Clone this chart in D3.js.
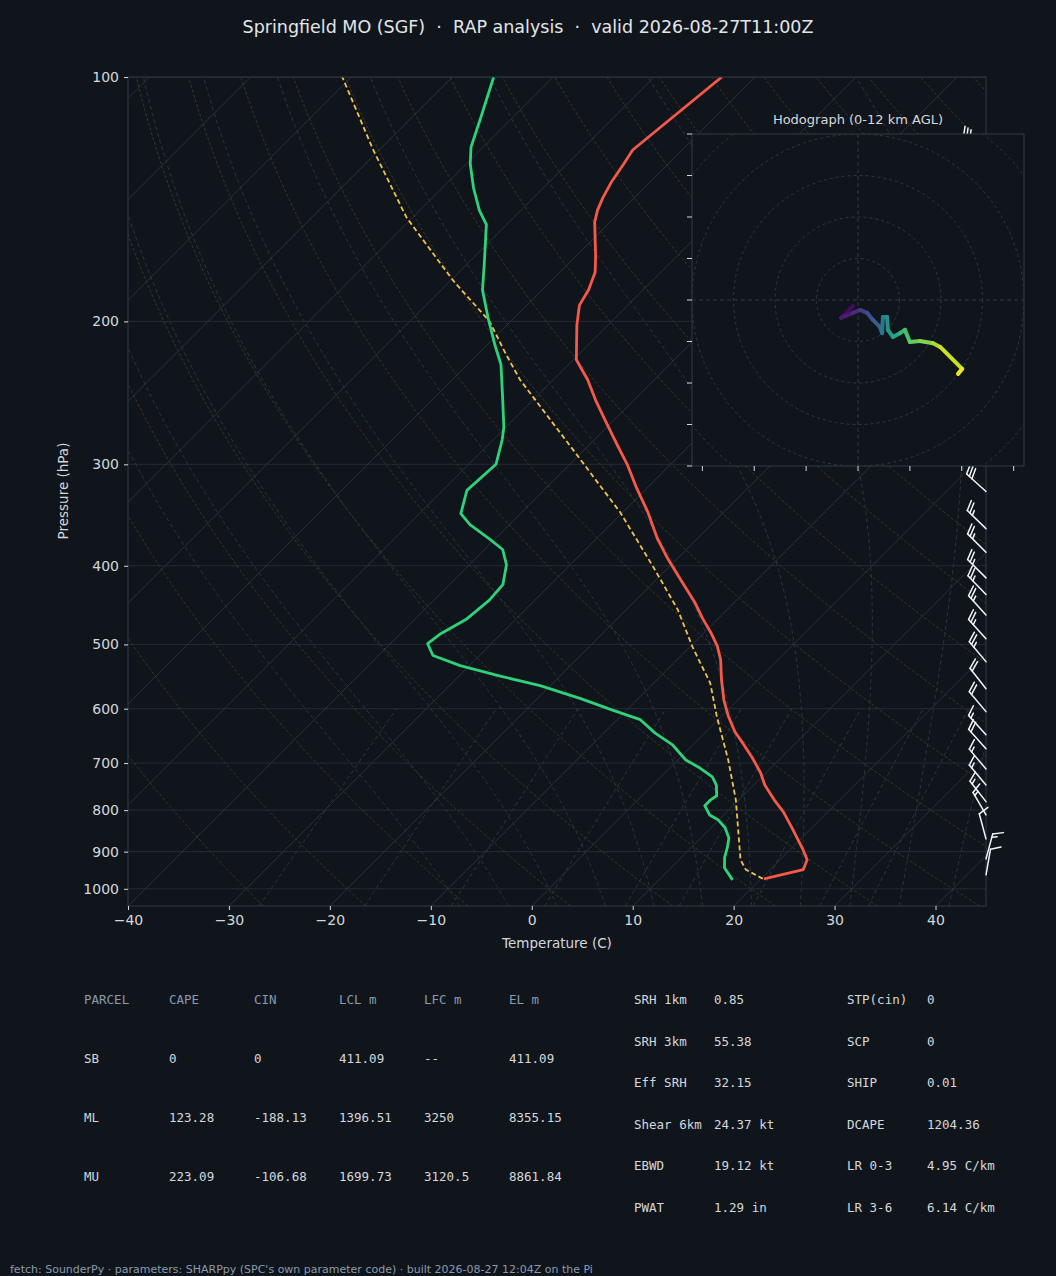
<!DOCTYPE html>
<html>
<head>
<meta charset="utf-8">
<script src="https://cdn.jsdelivr.net/npm/d3@7"></script>
<style>
  body { margin: 0; background: #10151b; }
  svg { display: block; }
</style>
</head>
<body>
<svg id="chart" width="1056" height="1276"></svg>
<script>
// sounding (pressure hPa, temperature C)
var tempP = [972, 947, 921, 895, 836, 804, 777, 745, 720, 690, 663, 641, 612, 585, 553, 522, 502, 483, 465, 444, 416, 393, 370, 343, 321, 300, 284, 265, 250, 236, 223, 202, 191, 183, 174, 166, 151, 146, 141, 135, 128, 123, 100];
var tempT = [20.3, 23.3, 22.7, 21.3, 17.7, 15.6, 13.5, 11.1, 9.5, 7.2, 4.9, 2.9, 0.6, -1.4, -3.6, -5.7, -7.4, -9.4, -11.5, -13.9, -17.6, -20.8, -24.0, -27.6, -31.0, -34.3, -37.2, -40.8, -43.8, -46.6, -49.7, -53.1, -54.8, -55.4, -56.5, -58.1, -61.5, -62.4, -63.1, -63.8, -64.4, -64.9, -63.3];

var dewP = [975, 942, 915, 890, 866, 841, 822, 811, 790, 777, 768, 745, 728, 710, 694, 665, 643, 619, 602, 583, 562, 547, 531, 516, 499, 485, 466, 441, 422, 399, 382, 371, 356, 345, 323, 300, 280, 270, 250, 226, 214, 198, 183, 170, 152, 146, 137, 128, 122, 112, 100];
var dewT = [17.3, 15.3, 14.3, 13.6, 12.8, 11.4, 9.9, 8.6, 7.2, 7.2, 7.4, 6.3, 5.1, 3.0, 0.8, -2.0, -4.9, -7.7, -11.5, -15.7, -21.0, -25.9, -30.9, -34.6, -36.3, -36.0, -34.9, -34.5, -34.7, -36.3, -38.2, -40.5, -43.9, -45.9, -47.6, -47.3, -49.1, -50.2, -53.0, -56.7, -59.2, -62.6, -65.9, -68.3, -72.0, -74.1, -76.9, -79.6, -81.2, -83.2, -85.9];

var parcelP = [972, 947, 921, 871, 777, 694, 614, 558, 504, 453, 401, 344, 296, 236, 219.6, 200, 178, 149, 123, 100];
var parcelT = [20.2, 17.6, 16.1, 14.0, 9.7, 5.0, -0.4, -4.4, -9.7, -14.9, -21.6, -30.2, -39.4, -53.3, -57.2, -62.1, -69.8, -80.6, -90.6, -100.9];

// wind barbs (pressure hPa, direction deg, speed kt)
var windP = [961, 919, 868, 811, 781, 745, 712, 672, 646, 605, 567, 525, 492, 460, 434, 414, 385, 360, 324, 300, 270, 240, 210, 180, 150, 123];
var windDir = [10, 15, 345, 330, 322, 320, 320, 318, 318, 320, 322, 320, 318, 318, 316, 315, 315, 314, 312, 310, 308, 305, 305, 302, 300, 300];
var windSpd = [10, 15, 10, 15, 15, 15, 15, 20, 15, 20, 20, 25, 25, 25, 25, 25, 25, 25, 30, 30, 30, 30, 30, 30, 30, 30];

// hodograph (u, v kt)
var hodoU = [-1.2, -4.1, -1.2, 0.5, 2.2, 3.6, 5.3, 5.8, 6.0, 7.0, 7.2, 8.4, 10.1, 11.3, 12.5, 14.9, 18.1, 19.8, 25.1, 24.1];
var hodoV = [-1.4, -4.3, -3.1, -2.4, -3.1, -4.8, -6.5, -8.0, -4.1, -4.1, -7.2, -8.9, -8.0, -7.2, -10.1, -9.9, -10.4, -11.3, -16.6, -17.8];

var pressureTicks = [100, 200, 300, 400, 500, 600, 700, 800, 900, 1000];
var tempTicks = [-40, -30, -20, -10, 0, 10, 20, 30, 40];

var parcelHeader = ["PARCEL", "CAPE", "CIN", "LCL m", "LFC m", "EL m"];
var parcelRows = [
  ["SB", "0", "0", "411.09", "--", "411.09"],
  ["ML", "123.28", "-188.13", "1396.51", "3250", "8355.15"],
  ["MU", "223.09", "-106.68", "1699.73", "3120.5", "8861.84"]
];
var paramLabelsA = ["SRH 1km", "SRH 3km", "Eff SRH", "Shear 6km", "EBWD", "PWAT"];
var paramValuesA = ["0.85", "55.38", "32.15", "24.37 kt", "19.12 kt", "1.29 in"];
var paramLabelsB = ["STP(cin)", "SCP", "SHIP", "DCAPE", "LR 0-3", "LR 3-6"];
var paramValuesB = ["0", "0", "0.01", "1204.36", "4.95 C/km", "6.14 C/km"];

var svg = d3.select("#chart");
var bg = "#10151b";
var textCol = "#d4d8de";
var frameCol = "#2e3a48";

svg.append("rect").attr("width", 1056).attr("height", 1276).attr("fill", bg);

var plotL = 128, plotR = 986, plotT = 77, plotB = 906;
var x = d3.scaleLinear().domain([-40, 45]).range([plotL, plotR]);
var y = d3.scaleLog().domain([1050, 100]).range([plotB, plotT]);

// skewed position: isotherms lean 45 degrees
function sx(t, p) { return x(t) + (plotB - y(p)); }
var skewLine = d3.line().x(function (d) { return sx(d[1], d[0]); }).y(function (d) { return y(d[0]); });

svg.append("defs").append("clipPath").attr("id", "plotclip")
  .append("rect").attr("x", plotL).attr("y", plotT).attr("width", plotR - plotL).attr("height", plotB - plotT);

var plot = svg.append("g").attr("clip-path", "url(#plotclip)");

// horizontal grid
plot.selectAll(".hgrid").data(pressureTicks).enter().append("line")
  .attr("x1", plotL).attr("x2", plotR)
  .attr("y1", function (d) { return y(d); }).attr("y2", function (d) { return y(d); })
  .attr("stroke", "#232b35").attr("stroke-width", 1);

var pAll = d3.range(1050, 99, -5);
var pLow = d3.range(1050, 599, -10);

// isotherms
d3.range(-120, 50, 10).forEach(function (t) {
  plot.append("path").datum([[1050, t], [100, t]]).attr("d", skewLine)
    .attr("fill", "none").attr("stroke", "#28313b").attr("stroke-width", 1);
});

// dry adiabats
d3.range(-30, 210, 10).forEach(function (t0) {
  var th = t0 + 273.15;
  var pts = pAll.map(function (p) { return [p, th * Math.pow(p / 1000, 0.2857) - 273.15]; });
  plot.append("path").datum(pts).attr("d", skewLine)
    .attr("fill", "none").attr("stroke", "#3b3427").attr("stroke-width", 1)
    .attr("stroke-dasharray", "3,2");
});

// moist adiabats
function es(tc) { return 6.112 * Math.exp(17.67 * tc / (tc + 243.5)); }
function dTdp(tc, p) {
  var T = tc + 273.15, e = es(tc), r = 0.622 * e / (p - e);
  var Lv = 2.501e6, Rd = 287.04, cp = 1005.7;
  return (Rd * T / p) * (1 + Lv * r / (Rd * T)) / (cp + Lv * Lv * r * 0.622 / (Rd * T * T));
}
d3.range(-10, 46, 5).forEach(function (t0) {
  var pts = [];
  var t = t0;
  for (var p = 1000; p <= 1050; p += 5) { pts.unshift([p, t]); t += dTdp(t, p) * 5; }
  t = t0;
  for (var q = 1000; q >= 100; q -= 5) { pts.push([q, t]); t -= dTdp(t, q) * 5; }
  plot.append("path").datum(pts).attr("d", skewLine)
    .attr("fill", "none").attr("stroke", "#26363f").attr("stroke-width", 1)
    .attr("stroke-dasharray", "4,3");
});

// mixing ratio lines
[0.4, 1, 2, 4, 7, 10, 16, 24, 32].forEach(function (w) {
  var pts = pLow.map(function (p) {
    var e = (w / 1000) * p / (0.622 + w / 1000);
    var l = Math.log(e / 6.112);
    return [p, 243.5 * l / (17.67 - l)];
  });
  plot.append("path").datum(pts).attr("d", skewLine)
    .attr("fill", "none").attr("stroke", "#27383b").attr("stroke-width", 1)
    .attr("stroke-dasharray", "4,3");
});

// profiles
plot.append("path").datum(d3.zip(parcelP, parcelT)).attr("d", skewLine)
  .attr("fill", "none").attr("stroke", "#f2c14e").attr("stroke-width", 1.8)
  .attr("stroke-dasharray", "5,3");
plot.append("path").datum(d3.zip(dewP, dewT)).attr("d", skewLine)
  .attr("fill", "none").attr("stroke", "#2fd27a").attr("stroke-width", 2.8)
  .attr("stroke-linejoin", "round");
plot.append("path").datum(d3.zip(tempP, tempT)).attr("d", skewLine)
  .attr("fill", "none").attr("stroke", "#f5594a").attr("stroke-width", 2.8)
  .attr("stroke-linejoin", "round");

// frame and axes
svg.append("rect").attr("x", plotL).attr("y", plotT).attr("width", plotR - plotL).attr("height", plotB - plotT)
  .attr("fill", "none").attr("stroke", frameCol);

var yAxis = svg.append("g").attr("transform", "translate(" + plotL + ",0)")
  .call(d3.axisLeft(y).tickValues(pressureTicks).tickFormat(d3.format("d")).tickSize(4).tickPadding(5));
var xAxis = svg.append("g").attr("transform", "translate(0," + plotB + ")")
  .call(d3.axisBottom(x).tickValues(tempTicks).tickFormat(function (d) { return d < 0 ? "\u2212" + (-d) : d; }).tickSize(4).tickPadding(5));
[yAxis, xAxis].forEach(function (a) {
  a.select(".domain").remove();
  a.selectAll("line").attr("stroke", textCol);
  a.selectAll("text").attr("fill", textCol).style("font-family", "DejaVu Sans").style("font-size", "14px");
});

svg.append("text").attr("x", 557).attr("y", 948).attr("text-anchor", "middle")
  .attr("fill", textCol).style("font-family", "DejaVu Sans").style("font-size", "13.5px").text("Temperature (C)");
svg.append("text").attr("transform", "translate(68,491) rotate(-90)").attr("text-anchor", "middle")
  .attr("fill", textCol).style("font-family", "DejaVu Sans").style("font-size", "13.5px").text("Pressure (hPa)");

svg.append("text").attr("x", 528).attr("y", 33).attr("text-anchor", "middle")
  .attr("fill", "#e2e5ea").style("font-family", "DejaVu Sans").style("font-size", "17.5px")
  .style("white-space", "pre")
  .text("Springfield MO (SGF)  \u00b7  RAP analysis  \u00b7  valid 2026-08-27T11:00Z");

// wind barbs: staff points toward the direction the wind comes from
var barbs = svg.append("g").attr("stroke", "#f2f4f7").attr("stroke-width", 1.5).attr("fill", "none")
  .attr("stroke-linecap", "round");
windP.forEach(function (p, i) {
  var bx = plotR, by = y(p);
  var a = windDir[i] * Math.PI / 180;
  var sdx = Math.sin(a), sdy = -Math.cos(a);
  var len = 26;
  var tx = bx + sdx * len, ty = by + sdy * len;
  barbs.append("line").attr("x1", bx).attr("y1", by).attr("x2", tx).attr("y2", ty);
  var px = -sdy, py = sdx;
  var spd = windSpd[i], pos = 0;
  var full = Math.floor(spd / 10), half = (spd % 10) >= 5 ? 1 : 0;
  for (var k = 0; k < full; k++) {
    var ox = tx - sdx * pos, oy = ty - sdy * pos;
    barbs.append("line").attr("x1", ox).attr("y1", oy)
      .attr("x2", ox + px * 10 + sdx * 4).attr("y2", oy + py * 10 + sdy * 4);
    pos += 3.5;
  }
  if (half) {
    if (full === 0) pos = 3.5;
    var hx = tx - sdx * pos, hy = ty - sdy * pos;
    barbs.append("line").attr("x1", hx).attr("y1", hy)
      .attr("x2", hx + px * 5 + sdx * 2).attr("y2", hy + py * 5 + sdy * 2);
  }
});

// hodograph inset
var hx0 = 692, hy0 = 134, hsize = 332;
var hc = [hx0 + hsize / 2, hy0 + hsize / 2];
var hs = d3.scaleLinear().domain([-40, 40]).range([-hsize / 2, hsize / 2]);
var hodo = svg.append("g");
hodo.append("rect").attr("x", hx0).attr("y", hy0).attr("width", hsize).attr("height", hsize)
  .attr("fill", bg).attr("stroke", frameCol);
hodo.append("defs").append("clipPath").attr("id", "hclip")
  .append("rect").attr("x", hx0).attr("y", hy0).attr("width", hsize).attr("height", hsize);
var hin = hodo.append("g").attr("clip-path", "url(#hclip)");
[10, 20, 30, 40, 50].forEach(function (r) {
  hin.append("circle").attr("cx", hc[0]).attr("cy", hc[1]).attr("r", hs(r) - hs(0))
    .attr("fill", "none").attr("stroke", "#2c3845").attr("stroke-dasharray", "3,3");
});
hin.append("line").attr("x1", hx0).attr("x2", hx0 + hsize).attr("y1", hc[1]).attr("y2", hc[1])
  .attr("stroke", "#2c3845").attr("stroke-dasharray", "4,3");
hin.append("line").attr("y1", hy0).attr("y2", hy0 + hsize).attr("x1", hc[0]).attr("x2", hc[0])
  .attr("stroke", "#2c3845").attr("stroke-dasharray", "4,3");
d3.range(-40, 41, 10).forEach(function (v) {
  hodo.append("line").attr("x1", hx0 - 5).attr("x2", hx0).attr("y1", hc[1] - hs(v) + hs(0)).attr("y2", hc[1] - hs(v) + hs(0))
    .attr("stroke", textCol);
});
d3.range(-37.5, 38, 12.5).forEach(function (u) {
  hodo.append("line").attr("y1", hy0 + hsize).attr("y2", hy0 + hsize + 5).attr("x1", hc[0] + hs(u)).attr("x2", hc[0] + hs(u))
    .attr("stroke", textCol);
});
var hcol = d3.scaleSequential(d3.interpolateViridis).domain([0, hodoU.length - 1]);
for (var i = 0; i < hodoU.length - 1; i++) {
  hin.append("line")
    .attr("x1", hc[0] + hs(hodoU[i])).attr("y1", hc[1] - hs(hodoV[i]))
    .attr("x2", hc[0] + hs(hodoU[i + 1])).attr("y2", hc[1] - hs(hodoV[i + 1]))
    .attr("stroke", hcol(i + 0.5)).attr("stroke-width", 4).attr("stroke-linecap", "round");
}
hodo.append("text").attr("x", hc[0]).attr("y", 124).attr("text-anchor", "middle")
  .attr("fill", textCol).style("font-family", "DejaVu Sans").style("font-size", "13px")
  .text("Hodograph (0-12 km AGL)");

// parameter tables
var mono = "DejaVu Sans Mono";
var tbl = svg.append("g").style("font-family", mono).style("font-size", "12.5px");
var colX = [84, 169, 254, 339, 424, 509];
parcelHeader.forEach(function (h, j) {
  tbl.append("text").attr("x", colX[j]).attr("y", 1004).attr("fill", "#8a9bb0").text(h);
});
parcelRows.forEach(function (row, r) {
  row.forEach(function (c, j) {
    tbl.append("text").attr("x", colX[j]).attr("y", 1063 + r * 59).attr("fill", textCol).text(c);
  });
});
paramLabelsA.forEach(function (l, r) {
  var yy = 1004 + r * 41.5;
  tbl.append("text").attr("x", 634).attr("y", yy).attr("fill", textCol).text(l);
  tbl.append("text").attr("x", 714).attr("y", yy).attr("fill", textCol).text(paramValuesA[r]);
  tbl.append("text").attr("x", 847).attr("y", yy).attr("fill", textCol).text(paramLabelsB[r]);
  tbl.append("text").attr("x", 927).attr("y", yy).attr("fill", textCol).text(paramValuesB[r]);
});

svg.append("text").attr("x", 10).attr("y", 1273).attr("fill", "#8a9bb0")
  .style("font-family", "DejaVu Sans").style("font-size", "11px")
  .text("fetch: SounderPy \u00b7 parameters: SHARPpy (SPC's own parameter code) \u00b7 built 2026-08-27 12:04Z on the Pi");
</script>
</body>
</html>
